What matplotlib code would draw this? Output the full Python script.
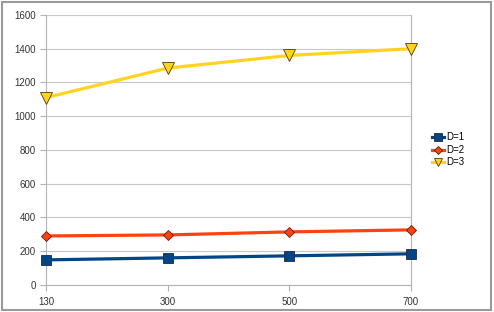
import matplotlib
matplotlib.use("Agg")
import matplotlib.pyplot as plt
from matplotlib.patches import Rectangle

# data
categories = ["130", "300", "500", "700"]
d1 = [148, 160, 172, 184]
d2 = [290, 296, 314, 326]
d3 = [1110, 1285, 1360, 1400]

plt.rcParams['font.family'] = ['Liberation Sans', 'DejaVu Sans']

fig = plt.figure(figsize=(4.94, 3.12), dpi=100)
ax = fig.add_axes([0.093, 0.087, 0.739, 0.865])

x = range(len(categories))
ax.plot(x, d1, color="#004586", lw=2.3, marker="s", ms=7.5,
        mec="#1a2a40", mew=0.6, label="D=1", clip_on=False, zorder=4)
ax.plot(x, d2, color="#ff420e", lw=2.3, marker="D", ms=5.5,
        mec="#6a1a00", mew=0.6, label="D=2", clip_on=False, zorder=4)
ax.plot(x, d3, color="#ffd320", lw=2.3, marker="v", ms=8.5,
        mec="#4a3e00", mew=0.6, label="D=3", clip_on=False, zorder=4)

ax.set_xlim(0, 3)
ax.set_ylim(0, 1600)
ax.set_xticks(list(x))
ax.set_xticklabels(categories)
ax.set_yticks(range(0, 1601, 200))
ax.yaxis.grid(True, color="#c8c8c8", lw=0.8)
ax.set_axisbelow(True)
for s in ["left", "right", "bottom", "top"]:
    ax.spines[s].set_color("#b3b3b3")
    ax.spines[s].set_linewidth(0.8)
ax.spines["top"].set_visible(False)
ax.tick_params(labelsize=7, colors="#b3b3b3", labelcolor="#333333",
               length=4, width=0.8)
ax.tick_params(axis="x", pad=5)

ax.legend(loc="center left", bbox_to_anchor=(1.045, 0.5), frameon=False,
          fontsize=7, handlelength=1.2, handletextpad=0.2, labelspacing=0.25,
          borderpad=0, markerscale=0.7)

# grey frame round the whole chart
fig.patches.append(Rectangle((0.004, 0.006), 0.99, 0.988, transform=fig.transFigure,
                             fill=False, ec="#9a9a9a", lw=1.5))

fig.savefig("out.png", dpi=100)
